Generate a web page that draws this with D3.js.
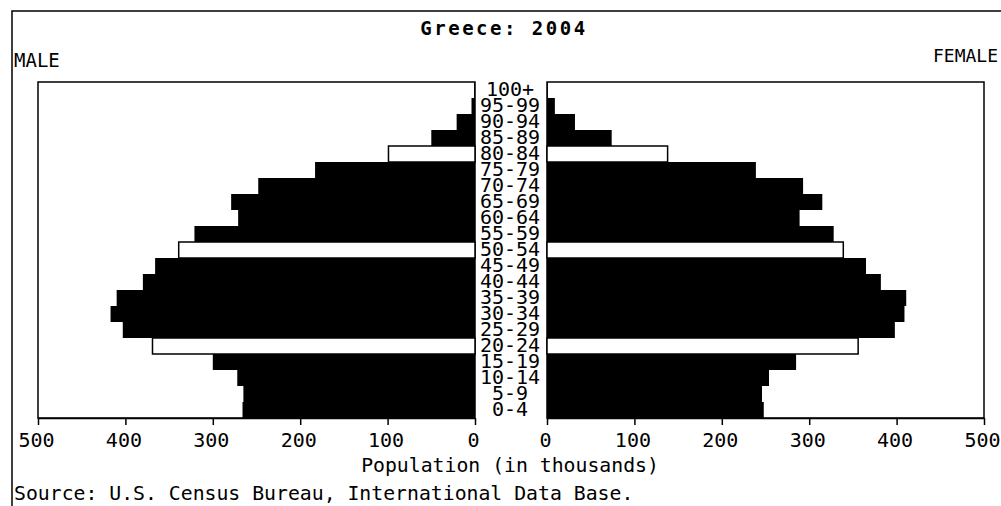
<!DOCTYPE html>
<meta charset="utf-8">
<script src="https://d3js.org/d3.v7.min.js"></script>
<style>
  body { margin: 0; background: #fff; }
  text { font-family: "DejaVu Sans Mono", monospace; fill: #000; }
</style>
<body>
<div id="my_dataviz"></div>
<script>
// age groups, youngest first
var ageGroups = ["0-4", "5-9", "10-14", "15-19", "20-24", "25-29", "30-34", "35-39",
  "40-44", "45-49", "50-54", "55-59", "60-64", "65-69", "70-74", "75-79",
  "80-84", "85-89", "90-94", "95-99", "100+"];
// population in thousands
var maleValues = [266, 265, 272, 300, 369, 403, 417, 410, 380, 366, 339, 321, 271, 279,
  248, 183, 99, 50, 21, 4, 1];
var femaleValues = [248, 246, 254, 285, 356, 398, 409, 411, 382, 365, 339, 328, 289, 315,
  293, 239, 138, 74, 32, 9, 1];
// groups drawn as open (white) bars
var openGroups = ["20-24", "50-54", "80-84"];
var tickValues = [0, 100, 200, 300, 400, 500];

var W = 1001, H = 506;
var svg = d3.select("#my_dataviz").append("svg")
  .attr("width", W).attr("height", H);

// outer frame (top and left only)
svg.append("path")
  .attr("d", "M12," + H + "V11H" + W)
  .attr("fill", "none").attr("stroke", "#000").attr("stroke-width", 1.5);

var plotTop = 82, plotBottom = 418;
var xMale = d3.scaleLinear().domain([0, 500]).range([475, 38]);
var xFemale = d3.scaleLinear().domain([0, 500]).range([547, 984]);
var y = d3.scaleBand().domain(ageGroups.slice().reverse()).range([plotTop, plotBottom]);

var rows = ageGroups.map(function(a, i) {
  return { age: a, male: maleValues[i], female: femaleValues[i], open: openGroups.indexOf(a) >= 0 };
});

// panel boxes
[xMale, xFemale].forEach(function(x) {
  var r = x.range();
  svg.append("rect")
    .attr("x", Math.min(r[0], r[1])).attr("y", plotTop)
    .attr("width", Math.abs(r[1] - r[0])).attr("height", plotBottom - plotTop)
    .attr("fill", "none").attr("stroke", "#000").attr("stroke-width", 1.5);
});

// male bars
svg.selectAll(".male").data(rows).enter().append("rect")
  .attr("class", "male")
  .attr("x", function(d) { return xMale(d.male); })
  .attr("y", function(d) { return y(d.age); })
  .attr("width", function(d) { return xMale(0) - xMale(d.male); })
  .attr("height", y.bandwidth())
  .attr("fill", function(d) { return d.open ? "#fff" : "#000"; })
  .attr("stroke", "#000")
  .attr("stroke-width", function(d) { return d.open ? 1.5 : 0; });

// female bars
svg.selectAll(".female").data(rows).enter().append("rect")
  .attr("class", "female")
  .attr("x", xFemale(0))
  .attr("y", function(d) { return y(d.age); })
  .attr("width", function(d) { return xFemale(d.female) - xFemale(0); })
  .attr("height", y.bandwidth())
  .attr("fill", function(d) { return d.open ? "#fff" : "#000"; })
  .attr("stroke", "#000")
  .attr("stroke-width", function(d) { return d.open ? 1.5 : 0; });

// age labels in the middle
svg.selectAll(".age").data(rows).enter().append("text")
  .attr("class", "age")
  .attr("x", 510)
  .attr("y", function(d) { return y(d.age) + y.bandwidth() / 2 + 6; })
  .attr("text-anchor", "middle")
  .style("font-size", "20px")
  .text(function(d) { return d.age; });

// axes
[xMale, xFemale].forEach(function(x) {
  var g = svg.append("g")
    .attr("transform", "translate(0," + plotBottom + ")")
    .call(d3.axisBottom(x).tickValues(tickValues).tickSize(7).tickSizeOuter(0));
  g.select(".domain").attr("stroke-width", 1.5);
  g.selectAll(".tick line").attr("stroke-width", 1.5);
  g.selectAll(".tick text")
    .attr("y", 0).attr("dy", 29).attr("dx", -2)
    .style("font-size", "20px")
    .style("font-family", "'DejaVu Sans Mono', monospace");
});

svg.append("text")
  .attr("x", 510).attr("y", 472)
  .attr("text-anchor", "middle")
  .style("font-size", "19.8px")
  .text("Population (in thousands)");

svg.append("text")
  .attr("x", 14).attr("y", 500)
  .style("font-size", "19.8px")
  .text("Source: U.S. Census Bureau, International Data Base.");

svg.append("text")
  .attr("x", 504).attr("y", 35)
  .attr("text-anchor", "middle")
  .style("font-size", "19px")
  .style("font-weight", "bold")
  .style("letter-spacing", "2.5px")
  .text("Greece: 2004");

svg.append("text")
  .attr("x", 14).attr("y", 67)
  .style("font-size", "19px")
  .text("MALE");

svg.append("text")
  .attr("x", 998).attr("y", 62)
  .attr("text-anchor", "end")
  .style("font-size", "18px")
  .text("FEMALE");
</script>
</body>
